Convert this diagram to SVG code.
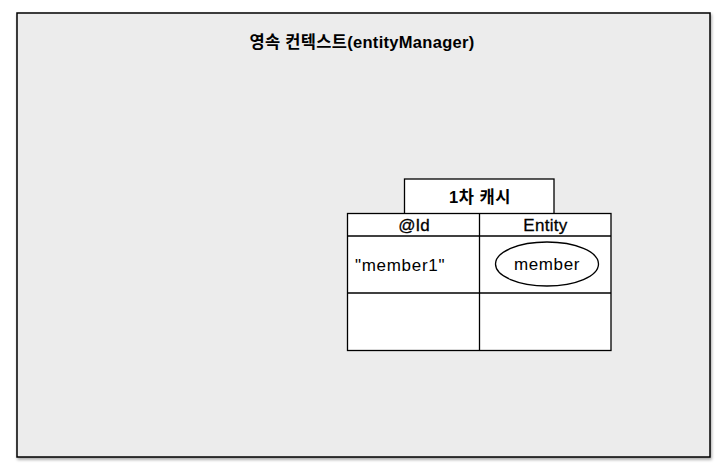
<svg xmlns="http://www.w3.org/2000/svg" width="724" height="475" viewBox="0 0 724 475">
<defs>
<filter id="sh" x="-5%" y="-5%" width="110%" height="110%">
<feDropShadow dx="1" dy="2" stdDeviation="1.5" flood-color="#000" flood-opacity="0.35"/>
</filter>
<style>
.t{font-family:"Liberation Sans","Noto Sans CJK KR",sans-serif;fill:#000}
.b{font-weight:bold}
.box{fill:#fff;stroke:#000;stroke-width:1.3}
</style>
</defs>
<rect width="724" height="475" fill="#fff"/>
<g id="context">
<rect x="17" y="13" width="693" height="444" fill="#ececec" stroke="#000" stroke-width="1.5" filter="url(#sh)"/>
<text class="t b" x="362" y="48" font-size="16.5" text-anchor="middle" letter-spacing="0.3">영속 컨텍스트(entityManager)</text>
</g>
<g id="cache">
<rect class="box" x="404.5" y="179" width="149.5" height="35"/>
<text class="t b" x="480" y="203" font-size="16.5" text-anchor="middle" letter-spacing="0.5">1차 캐시</text>
<rect class="box" x="347.5" y="213.5" width="263.5" height="137"/>
<line x1="347.5" y1="236" x2="611" y2="236" stroke="#000" stroke-width="1.3"/>
<line x1="347.5" y1="293" x2="611" y2="293" stroke="#000" stroke-width="1.3"/>
<line x1="479.5" y1="213.5" x2="479.5" y2="350.5" stroke="#000" stroke-width="1.3"/>
<text class="t" x="414" y="231" font-size="17" text-anchor="middle" stroke="#000" stroke-width="0.3">@Id</text>
<text class="t" x="545.5" y="231" font-size="17" text-anchor="middle" letter-spacing="0.3" stroke="#000" stroke-width="0.3">Entity</text>
<text class="t" x="355" y="271" font-size="17" letter-spacing="0.7">"member1"</text>
</g>
<g id="member">
<ellipse cx="547" cy="264" rx="51.5" ry="22" fill="#fff" stroke="#000" stroke-width="1.3"/>
<text class="t" x="547" y="270" font-size="17" text-anchor="middle" letter-spacing="0.6">member</text>
</g>
<g id="connectors"/>
</svg>
